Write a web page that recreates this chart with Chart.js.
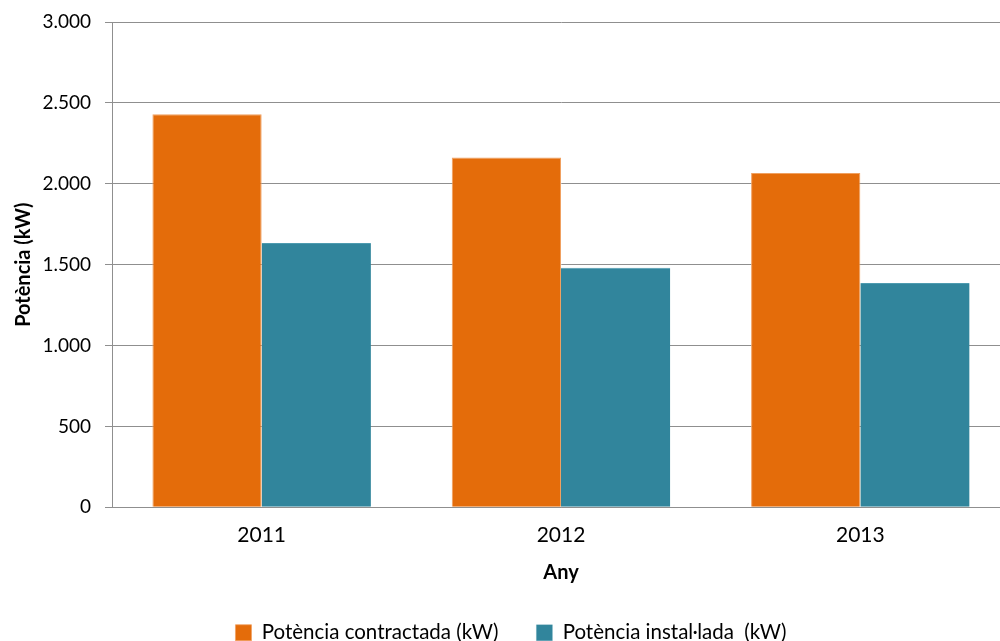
<!DOCTYPE html>
<html>
<head>
<meta charset="utf-8">
<script src="https://cdn.jsdelivr.net/npm/chart.js@4"></script>
<style>
  html, body { margin: 0; padding: 0; background: #fff; overflow: hidden; }
  /* the original plot runs a little past the right edge of the picture */
  #wrap { width: 1010px; height: 641px; position: relative; }
</style>
</head>
<body>
<div id="wrap"><canvas id="chart"></canvas></div>
<script>
const years = ['2011', '2012', '2013'];
const contractada = [2430, 2162, 2067];
const installada = [1634, 1481, 1387];
const yMin = 0;
const yMax = 3000;
const yStep = 500;

const seriesNames = ['Potència contractada (kW)', 'Potència instal·lada  (kW)'];
const axisTitles = { x: 'Any', y: 'Potència (kW)' };

// thousands with a dot, like the original
function fmt(v) {
    return String(v).replace(/\B(?=(\d{3})+(?!\d))/g, '.');
}

const font = "Lato, 'Open Sans', sans-serif";
const gridColor = '#8f8f8f';

const ctx = document.getElementById('chart').getContext('2d');
const chart = new Chart(ctx, {
    type: 'bar',
    data: {
        labels: years,
        datasets: [
            {
                label: seriesNames[0],
                data: contractada,
                backgroundColor: '#E46C0A',
                borderColor: '#F0A060',
                borderWidth: { left: 1, right: 1, top: 1, bottom: 0 },
                categoryPercentage: 0.73,
                barPercentage: 1.0
            },
            {
                label: seriesNames[1],
                data: installada,
                backgroundColor: '#31859C',
                borderColor: '#4E9BB0',
                borderWidth: { left: 0, right: 0, top: 1, bottom: 0 },
                categoryPercentage: 0.73,
                barPercentage: 1.0
            }
        ]
    },
    options: {
        responsive: true,
        maintainAspectRatio: false,
        animation: false,
        layout: { padding: { top: 22, right: 0, left: 12, bottom: -12 } },
        scales: {
            y: {
                min: yMin,
                max: yMax,
                ticks: {
                    stepSize: yStep,
                    callback: v => fmt(v),
                    color: '#000',
                    font: { family: font, size: 19 },
                    padding: 14
                },
                grid: { color: gridColor, lineWidth: 1, tickLength: 7 },
                border: { color: gridColor, width: 1 },
                title: {
                    display: true,
                    text: axisTitles.y,
                    color: '#000',
                    font: { family: font, size: 20, weight: 'bold' },
                    padding: { top: 0, bottom: 2 }
                },
                afterFit: s => {
                    s.width = 100;
                    s.paddingTop = 0;
                }
            },
            x: {
                grid: { display: false },
                border: { color: gridColor, width: 1 },
                ticks: {
                    color: '#000',
                    font: { family: font, size: 21 },
                    padding: 7
                },
                title: {
                    display: true,
                    text: axisTitles.x,
                    color: '#000',
                    font: { family: font, size: 20, weight: 'bold' },
                    padding: { top: 6, bottom: 0 }
                }
            }
        },
        plugins: {
            legend: {
                position: 'bottom',
                labels: {
                    boxWidth: 16,
                    boxHeight: 16,
                    padding: 38,
                    color: '#000',
                    font: { family: font, size: 20.5 }
                }
            },
            tooltip: { enabled: false }
        }
    }
});
</script>
</body>
</html>
